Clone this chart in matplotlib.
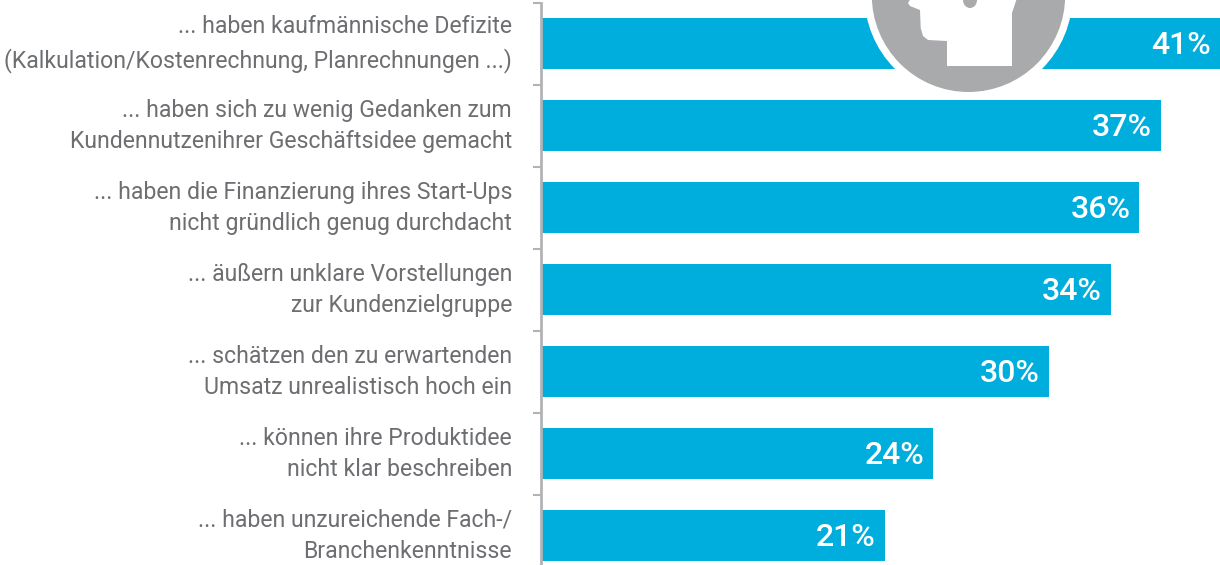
import matplotlib
matplotlib.use("Agg")
import matplotlib.pyplot as plt
from matplotlib.patches import Circle, Polygon, Ellipse
from matplotlib.ticker import FixedLocator

categories = [
    "... haben kaufmännische Defizite\n(Kalkulation/Kostenrechnung, Planrechnungen ...)",
    "... haben sich zu wenig Gedanken zum\nKundennutzenihrer Geschäftsidee gemacht",
    "... haben die Finanzierung ihres Start-Ups\nnicht gründlich genug durchdacht",
    "... äußern unklare Vorstellungen\nzur Kundenzielgruppe",
    "... schätzen den zu erwartenden\nUmsatz unrealistisch hoch ein",
    "... können ihre Produktidee\nnicht klar beschreiben",
    "... haben unzureichende Fach-/\nBranchenkenntnisse",
]
bar_values = [41.0, 37.0, 35.7, 34.0, 30.3, 23.4, 20.5]
label_values = [41, 37, 36, 34, 30, 24, 21]

BLUE = "#00aede"
GREY_TEXT = "#6d6e71"
GREY_AXIS = "#b1b3b6"
GREY_ICON = "#a9aaac"
FONT = "Roboto"
W, H = 1220, 565
AX_LEFT = 541

fig = plt.figure(figsize=(W / 100, H / 100), dpi=100, facecolor="white")
ax = fig.add_axes([AX_LEFT / W, 0, 1 - AX_LEFT / W, 1])
ax.set_xlim(0, (W - AX_LEFT) / 16.76)
ax.set_ylim((H - 43.5) / 82, -43.5 / 82)

y = list(range(len(categories)))
ax.barh(y, bar_values, height=51 / 82, color=BLUE, zorder=2)

for s in ["top", "right", "bottom"]:
    ax.spines[s].set_visible(False)
ax.spines["left"].set_color(GREY_AXIS)
ax.spines["left"].set_linewidth(2)
ax.spines["left"].set_bounds(-0.5, (H - 43.5) / 82)
ax.xaxis.set_visible(False)
ax.yaxis.set_major_locator(FixedLocator([i - 0.5 for i in y]))
ax.tick_params(axis="y", length=6, width=1.5, color=GREY_AXIS, labelleft=False)

lab_tf = ax.get_yaxis_transform()
for i, cat in enumerate(categories):
    ax.text(-29 / (W - AX_LEFT), i + 0.006, cat, transform=lab_tf, ha="right", va="center",
            fontsize=16.6, color=GREY_TEXT, family=FONT, linespacing=1.47)

for i, (v, lv) in enumerate(zip(bar_values, label_values)):
    xv = min(v, ax.get_xlim()[1])
    ax.annotate(f"{lv}%", (xv, i), xytext=(-6.5, -1.8), textcoords="offset points",
                ha="right", va="center", fontsize=23, color="white",
                family=FONT, fontweight="medium", zorder=3)

# decorative head icon, placed in pixel coordinates
ov = fig.add_axes([0, 0, 1, 1], facecolor="none")
ov.set_xlim(0, W)
ov.set_ylim(H, 0)
ov.axis("off")
ov.add_patch(Circle((968.5, -4.7), 104, fc="white", ec="none"))
ov.add_patch(Circle((968.5, -4.7), 96.7, fc=GREY_ICON, ec="none"))
head = [(911, -2), (908, 3), (910, 6), (920, 10), (920.7, 28), (923, 36), (928, 40),
        (947, 41), (947, 66), (1012, 66), (1012, 13), (1017, -2)]
ov.add_patch(Polygon(head, closed=True, fc="white", ec="none"))
ov.add_patch(Ellipse((970, 0), 14, 16, fc=GREY_ICON, ec="none"))

fig.savefig("out.png", dpi=100, facecolor="white")
